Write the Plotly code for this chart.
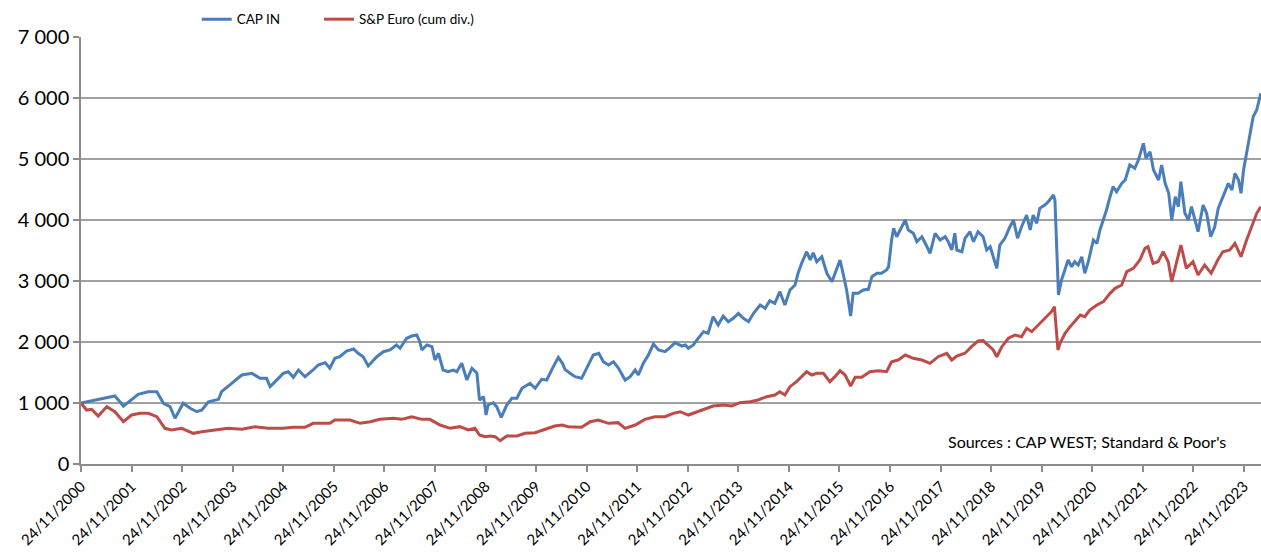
import pandas as pd
import plotly.graph_objects as go

# Time values are years elapsed since 24/11/2000
cap_t = [0.00, 0.28, 0.51, 0.67, 0.84, 1.13, 1.33, 1.50, 1.63, 1.76, 1.86, 2.02, 2.16, 2.29, 2.39, 2.52, 2.72, 2.78, 2.98,
         3.18, 3.38, 3.54, 3.67, 3.74, 3.84, 4.00, 4.10, 4.20, 4.30, 4.43, 4.59, 4.69, 4.83, 4.92, 5.02, 5.12, 5.25, 5.39,
         5.48, 5.58, 5.68, 5.85, 5.98, 6.11, 6.24, 6.31, 6.44, 6.54, 6.64, 6.70, 6.74, 6.84, 6.94, 7.00, 7.07, 7.16, 7.26,
         7.36, 7.43, 7.53, 7.63, 7.73, 7.83, 7.88, 7.96, 8.01, 8.05, 8.15, 8.22, 8.31, 8.42, 8.52, 8.62, 8.72, 8.88, 8.98,
         9.11, 9.21, 9.34, 9.44, 9.52, 9.57, 9.67, 9.77, 9.90, 10.03, 10.13, 10.24, 10.33, 10.43, 10.53, 10.63, 10.76,
         10.86, 10.96, 11.02, 11.12, 11.22, 11.32, 11.42, 11.55, 11.65, 11.75, 11.88, 11.95, 12.01, 12.11, 12.18, 12.31,
         12.40, 12.50, 12.60, 12.70, 12.80, 12.90, 13.00, 13.10, 13.20, 13.30, 13.43, 13.53, 13.62, 13.72, 13.82, 13.92,
         14.02, 14.12, 14.18, 14.25, 14.35, 14.42, 14.48, 14.55, 14.65, 14.75, 14.85, 14.95, 15.01, 15.07, 15.14, 15.22,
         15.27, 15.37, 15.47, 15.57, 15.64, 15.74, 15.83, 15.93, 15.97, 16.03, 16.07, 16.13, 16.20, 16.30, 16.36, 16.46,
         16.53, 16.63, 16.73, 16.79, 16.89, 16.99, 17.09, 17.15, 17.22, 17.28, 17.32, 17.42, 17.48, 17.58, 17.65, 17.74,
         17.84, 17.91, 17.98, 18.04, 18.11, 18.17, 18.27, 18.37, 18.44, 18.52, 18.60, 18.70, 18.77, 18.83, 18.90, 18.96,
         19.06, 19.13, 19.23, 19.26, 19.29, 19.33, 19.39, 19.46, 19.52, 19.59, 19.65, 19.72, 19.79, 19.85, 19.92, 20.02,
         20.09, 20.15, 20.22, 20.28, 20.35, 20.41, 20.48, 20.58, 20.65, 20.74, 20.84, 20.91, 21.01, 21.06, 21.14, 21.21,
         21.31, 21.37, 21.44, 21.51, 21.57, 21.64, 21.70, 21.75, 21.83, 21.90, 21.96, 22.03, 22.09, 22.19, 22.26, 22.34,
         22.42, 22.49, 22.59, 22.69, 22.76, 22.82, 22.89, 22.94, 22.99, 23.05, 23.12, 23.18, 23.25, 23.33]
cap_in = [1000, 1050, 1093, 1115, 950, 1143, 1185, 1185, 995, 940, 750, 995, 913, 857, 885, 1021, 1060, 1185, 1323,
          1459, 1486, 1405, 1405, 1268, 1350, 1486, 1513, 1421, 1541, 1431, 1541, 1623, 1661, 1569, 1733, 1759, 1852, 1885,
          1815, 1759, 1607, 1759, 1841, 1869, 1951, 1897, 2061, 2098, 2115, 2005, 1869, 1951, 1923, 1705, 1815, 1541, 1513,
          1541, 1513, 1651, 1377, 1569, 1487, 1049, 1104, 803, 967, 1005, 940, 765, 967, 1077, 1077, 1241, 1323, 1241,
          1389, 1377, 1595, 1749, 1651, 1552, 1487, 1432, 1405, 1623, 1787, 1815, 1677, 1623, 1677, 1569, 1377,
          1432, 1541, 1459, 1651, 1787, 1967, 1869, 1841, 1913, 1989, 1934, 1951, 1896, 1951, 2033, 2169,
          2142, 2415, 2279, 2426, 2333, 2388, 2470, 2388, 2333, 2470, 2607, 2552, 2677, 2634, 2825, 2607,
          2852, 2934, 3126, 3290, 3480, 3344, 3464, 3316, 3398, 3126, 2989, 3234, 3344, 3126, 2852, 2426,
          2798, 2798, 2852, 2864, 3071, 3126, 3126, 3180, 3234, 3672, 3864, 3726, 3836, 4000, 3836, 3782,
          3644, 3726, 3562, 3454, 3782, 3672, 3726, 3644, 3508, 3782, 3508, 3480, 3700, 3808, 3644, 3808,
          3726, 3508, 3562, 3398, 3208, 3590, 3700, 3890, 4000, 3700, 3890, 4082, 3836, 4082, 3946, 4192,
          4246, 4300, 4410, 4328, 3562, 2770, 3016, 3208, 3344, 3234, 3316, 3262, 3398, 3126, 3316, 3672,
          3618, 3836, 4000, 4164, 4382, 4546, 4464, 4601, 4656, 4902, 4847, 4984, 5257, 5011, 5120, 4820,
          4656, 4902, 4601, 4437, 4000, 4382, 4218, 4628, 4110, 4000, 4218, 4000, 3808, 4246, 4110, 3726,
          3890, 4192, 4382, 4601, 4492, 4765, 4656, 4437, 4820, 5093, 5421, 5693, 5803, 6077]

sp_t = [0.00, 0.11, 0.21, 0.34, 0.51, 0.67, 0.84, 1.00, 1.17, 1.33, 1.50, 1.66, 1.79, 1.99, 2.22, 2.39, 2.65, 2.91,
        3.18, 3.44, 3.70, 4.00, 4.20, 4.43, 4.59, 4.92, 5.02, 5.32, 5.52, 5.72, 5.91, 6.18, 6.34, 6.54, 6.74, 6.90,
        7.10, 7.30, 7.49, 7.66, 7.79, 7.88, 7.99, 8.09, 8.19, 8.29, 8.42, 8.62, 8.78, 8.98, 9.18, 9.37, 9.51, 9.64,
        9.90, 10.07, 10.23, 10.43, 10.62, 10.76, 10.96, 11.15, 11.35, 11.55, 11.71, 11.85, 12.01, 12.18, 12.37, 12.50,
        12.70, 12.87, 13.03, 13.23, 13.39, 13.56, 13.72, 13.82, 13.92, 14.02, 14.15, 14.25, 14.35, 14.45, 14.55, 14.68,
        14.81, 14.91, 15.01, 15.11, 15.22, 15.31, 15.44, 15.60, 15.77, 15.93, 16.03, 16.16, 16.30, 16.46, 16.63, 16.79,
        16.95, 17.12, 17.22, 17.32, 17.48, 17.61, 17.74, 17.84, 17.94, 18.04, 18.11, 18.21, 18.34, 18.47, 18.60, 18.70,
        18.80, 18.93, 19.06, 19.19, 19.25, 19.28, 19.32, 19.36, 19.46, 19.56, 19.65, 19.76, 19.85, 19.95, 20.09, 20.22,
        20.35, 20.45, 20.58, 20.68, 20.81, 20.94, 21.04, 21.10, 21.20, 21.30, 21.40, 21.50, 21.57, 21.67, 21.75, 21.86,
        21.99, 22.09, 22.22, 22.35, 22.48, 22.58, 22.72, 22.82, 22.94, 23.05, 23.15, 23.25, 23.33]
sp_euro = [1000, 885, 897, 787, 940, 857, 693, 803, 831, 831, 775, 585, 557, 585, 503, 530, 557, 585,
           569, 612, 585, 585, 601, 601, 667, 667, 721, 721, 667, 694, 732, 748, 732, 775, 732, 732,
           639, 585, 612, 557, 585, 475, 448, 459, 448, 382, 459, 459, 503, 513, 569, 623, 639, 612,
           601, 694, 721, 667, 678, 585, 639, 732, 775, 775, 831, 857, 803, 857, 913, 951,
           967, 951, 1005, 1021, 1049, 1104, 1131, 1185, 1131, 1268, 1350, 1432, 1513, 1459, 1487, 1487,
           1350, 1432, 1530, 1459, 1279, 1421, 1421, 1513, 1530, 1513, 1677, 1705, 1787, 1733, 1705, 1651,
           1759, 1815, 1705, 1770, 1815, 1923, 2016, 2022, 1951, 1869, 1759, 1923, 2061, 2115, 2087, 2224,
           2169, 2279, 2388, 2497, 2579, 2306, 1869, 1979, 2142, 2251, 2333, 2443, 2415, 2525, 2607, 2661,
           2798, 2880, 2934, 3153, 3208, 3344, 3536, 3562, 3290, 3316, 3480, 3316, 2989, 3316, 3590, 3208,
           3316, 3098, 3262, 3126, 3344, 3480, 3508, 3618, 3398, 3672, 3890, 4110, 4218]

tick_years = list(range(2000, 2024))
tick_labels = [f"24/11/{y}" for y in tick_years]
y_ticks = [0, 1000, 2000, 3000, 4000, 5000, 6000, 7000]
y_labels = ["0", "1 000", "2 000", "3 000", "4 000", "5 000", "6 000", "7 000"]

start = pd.Timestamp("2000-11-24")


def to_dates(offsets):
    return [(start + pd.Timedelta(days=o * 365.25)).strftime("%Y-%m-%d %H:%M") for o in offsets]


x_end = to_dates([23.335])[0]

fig = go.Figure()
fig.add_trace(go.Scatter(x=to_dates(cap_t), y=cap_in, mode="lines", name="CAP IN",
                         line=dict(color="#4A7EBB", width=3), legend="legend"))
fig.add_trace(go.Scatter(x=to_dates(sp_t), y=sp_euro, mode="lines", name="S&P Euro (cum div.)",
                         line=dict(color="#BE4B48", width=3), legend="legend2"))

FONT = "Lato, 'Open Sans', sans-serif"
leg_common = dict(orientation="h", xref="container", yref="container", y=0.993,
                  xanchor="left", yanchor="top", font=dict(size=13.5, family=FONT),
                  bgcolor="rgba(0,0,0,0)")
fig.update_layout(
    width=1261, height=556,
    margin=dict(l=81, r=0, t=37, b=92),
    paper_bgcolor="white", plot_bgcolor="white",
    font=dict(family=FONT, color="black"),
    showlegend=True,
    legend=dict(x=0.156, **leg_common),
    legend2=dict(x=0.253, **leg_common),
    xaxis=dict(
        type="date",
        range=["2000-11-24", x_end],
        autorange=False,
        automargin=False,
        tickmode="array",
        tickvals=[f"{y}-11-24" for y in tick_years],
        ticktext=tick_labels,
        tickangle=-45,
        tickfont=dict(size=15, family=FONT),
        ticks="outside", ticklen=6, tickcolor="#8c8c8c", tickwidth=1.5,
        showgrid=False, showline=True, linecolor="#8c8c8c", linewidth=1.5,
        zeroline=False,
    ),
    yaxis=dict(
        range=[0, 7000],
        autorange=False,
        automargin=False,
        tickmode="array", tickvals=y_ticks, ticktext=y_labels,
        tickfont=dict(size=20, family=FONT),
        ticks="outside", ticklen=6, tickcolor="#8c8c8c", tickwidth=1.5,
        showgrid=True, gridcolor="#a0a0a0", gridwidth=1.5,
        showline=True, linecolor="#8c8c8c", linewidth=1.5,
        zeroline=False,
    ),
    annotations=[dict(text="Sources : CAP WEST; Standard & Poor's", xref="paper", yref="paper",
                      x=0.972, y=0.052, xanchor="right", yanchor="middle", showarrow=False,
                      font=dict(size=16, family=FONT, color="black"))],
)

fig.write_html("out.html", config={"displayModeBar": False},
               post_script="document.body.style.margin='0';document.body.style.overflow='hidden';")
